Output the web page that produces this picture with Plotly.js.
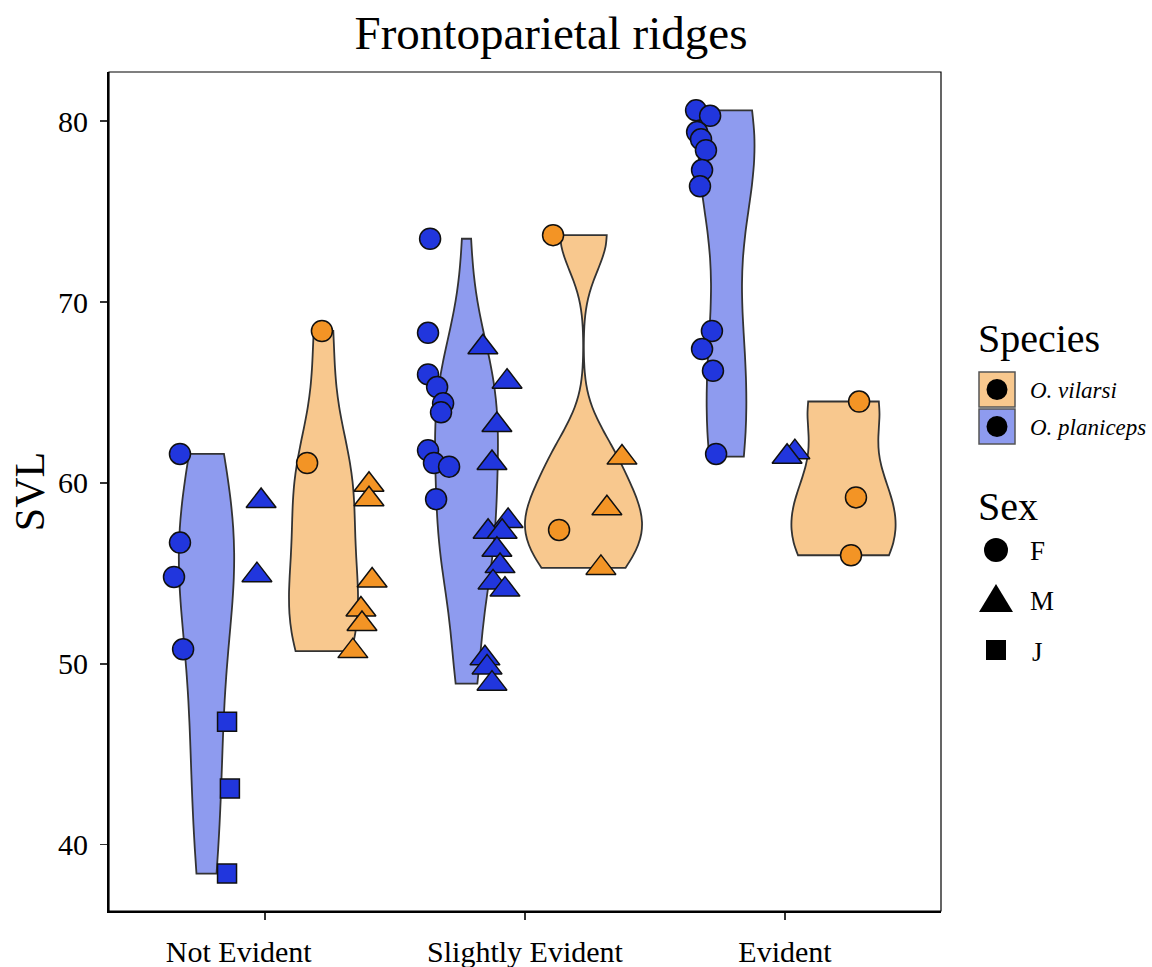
<!DOCTYPE html>
<html><head><meta charset="utf-8">
<script src="https://cdn.plot.ly/plotly-3.0.1.min.js"></script>
<style>html,body{margin:0;padding:0;background:#fff}#chart{width:1152px;height:967px}</style>
</head><body><div id="chart"></div>
<script>
// ---------------- DATA ----------------
const categories = ['Not Evident', 'Slightly Evident', 'Evident'];
const speciesNames = ['O. vilarsi', 'O. planiceps'];
const sexNames = ['F', 'M', 'J'];

// SVL values, one inner list per category (Not Evident, Slightly Evident, Evident)
const planicepsF = [[61.6, 56.7, 54.8, 50.8],
                    [73.5, 68.3, 66.0, 65.3, 64.4, 63.9, 61.8, 61.1, 60.9, 59.1],
                    [80.6, 80.3, 79.4, 79.0, 78.4, 77.3, 76.4, 68.4, 67.4, 66.2, 61.6]];
const planicepsM = [[59.0, 54.9],
                    [67.5, 65.6, 63.2, 61.1, 57.9, 57.3, 57.3, 56.3, 55.4, 54.5, 54.1, 50.3, 49.8, 48.9],
                    [61.7, 61.45]];
const planicepsJ = [[46.8, 43.1, 38.4], [], []];
const vilarsiF = [[68.4, 61.1], [73.7, 57.4], [64.5, 59.2, 56.0]];
const vilarsiM = [[59.9, 59.1, 54.6, 53.0, 52.2, 50.7], [61.4, 58.6, 55.3], []];
const vilarsiJ = [[], [], []];

// horizontal jitter of each point (category units), same layout as the value lists
const jitterPlanF = [[-0.327, -0.327, -0.350, -0.315],
                     [-0.365, -0.373, -0.373, -0.338, -0.315, -0.323, -0.373, -0.350, -0.292, -0.342],
                     [-0.342, -0.288, -0.338, -0.323, -0.304, -0.319, -0.327, -0.281, -0.319, -0.277, -0.265]];
const jitterPlanM = [[-0.015, -0.031],
                     [-0.162, -0.069, -0.108, -0.127, -0.065, -0.142, -0.088, -0.108, -0.096, -0.123, -0.077, -0.154, -0.146, -0.127],
                     [0.038, 0.008]];
const jitterPlanJ = [[-0.146, -0.135, -0.146], [], []];
const jitterVilF = [[0.219, 0.162], [0.108, 0.131], [0.285, 0.273, 0.254]];
const jitterVilM = [[0.400, 0.400, 0.412, 0.369, 0.373, 0.338], [0.373, 0.315, 0.292], []];
const jitterVilJ = [[], [], []];

// ---------------- STYLE ----------------
const FONT = '"Liberation Serif", "Times New Roman", serif';
const COL = {
  'O. vilarsi':   {pt: '#F39425', fill: '#F8C88E'},
  'O. planiceps': {pt: '#2136DD', fill: '#8E9BEF'}
};
const DODGE = 0.225;      // violin offset from category centre
const MAXW = 0.45;        // widest violin (data units)
const M = {l: 109, r: 211, t: 72, b: 56};
const W = 1152, H = 967;
const PW = W - M.l - M.r, PH = H - M.t - M.b;

const speciesData = {
  'O. vilarsi':   {F: vilarsiF, M: vilarsiM, J: vilarsiJ, jit: {F: jitterVilF, M: jitterVilM, J: jitterVilJ}, side: +1},
  'O. planiceps': {F: planicepsF, M: planicepsM, J: planicepsJ, jit: {F: jitterPlanF, M: jitterPlanM, J: jitterPlanJ}, side: -1}
};

// ---------- density helpers (ggplot "area" scaling with bw.nrd0) ----------
function q7(s, p) { const h = (s.length - 1) * p, lo = Math.floor(h); const hi = Math.min(lo + 1, s.length - 1); return s[lo] + (h - lo) * (s[hi] - s[lo]); }
function bwNrd0(v) {
  const n = v.length, m = v.reduce((a, b) => a + b, 0) / n;
  const sd = Math.sqrt(v.reduce((a, b) => a + (b - m) * (b - m), 0) / (n - 1));
  const s = [...v].sort((a, b) => a - b);
  let lo = Math.min(sd, (q7(s, 0.75) - q7(s, 0.25)) / 1.34);
  if (!lo) lo = sd || Math.abs(s[0]) || 1;
  return 0.9 * lo * Math.pow(n, -0.2);
}
function maxDens(v, bw) {
  const lo = Math.min(...v), hi = Math.max(...v); let best = 0;
  for (let i = 0; i < 512; i++) {
    const x = lo + (hi - lo) * i / 511; let d = 0;
    for (const xi of v) { const z = (x - xi) / bw; d += Math.exp(-0.5 * z * z); }
    d /= v.length * bw * Math.sqrt(2 * Math.PI);
    if (d > best) best = d;
  }
  return best;
}

// ---------- build violins ----------
const groups = [];
categories.forEach((cat, ci) => {
  ['O. planiceps', 'O. vilarsi'].forEach(sp => {
    const d = speciesData[sp];
    const vals = [].concat(d.F[ci], d.M[ci], d.J[ci]);
    const bw = bwNrd0(vals);
    groups.push({sp, ci, vals, bw, md: maxDens(vals, bw)});
  });
});
const globalMax = Math.max(...groups.map(g => g.md));

const traces = [];
groups.forEach(g => {
  const pos = g.ci + 1 + speciesData[g.sp].side * DODGE;
  traces.push({
    type: 'violin', orientation: 'v',
    x: g.vals.map(() => pos), y: g.vals,
    width: MAXW * g.md / globalMax,
    bandwidth: g.bw, spanmode: 'hard', points: false,
    box: {visible: false}, meanline: {visible: false},
    fillcolor: COL[g.sp].fill, opacity: 1,
    line: {color: '#333333', width: 1.8},
    showlegend: false, hoverinfo: 'y', name: g.sp + ' ' + categories[g.ci]
  });
});

// ---------- points ----------
const symbolOf = {F: 'circle', M: 'triangle-up', J: 'square'};
const sizeOf = {F: 21, M: 26, J: 19};
['O. planiceps', 'O. vilarsi'].forEach(sp => {
  const d = speciesData[sp];
  sexNames.forEach(sx => {
    const xs = [], ys = [];
    categories.forEach((cat, ci) => {
      d[sx][ci].forEach((v, k) => { xs.push(ci + 1 + d.jit[sx][ci][k]); ys.push(v); });
    });
    if (!xs.length) return;
    traces.push({
      type: 'scatter', mode: 'markers', x: xs, y: ys,
      marker: {symbol: symbolOf[sx], size: sizeOf[sx], color: COL[sp].pt, line: {color: '#101010', width: 1.5}},
      showlegend: false, name: sp + ' ' + sx, hoverinfo: 'x+y'
    });
  });
});

// ---------- manual legend (pixel positions -> paper) ----------
const px = x => (x - M.l) / PW;
const py = y => (M.t + PH - y) / PH;
const shapes = [
  {type: 'rect', xref: 'paper', yref: 'paper', x0: 0, x1: 1, y0: 0, y1: 1, line: {color: '#000', width: 1.2}, fillcolor: 'rgba(0,0,0,0)', layer: 'above'}
];
const annotations = [];
function txt(t, x, y, size, italic) {
  annotations.push({text: t, xref: 'paper', yref: 'paper', x: px(x), y: py(y), xanchor: 'left', yanchor: 'middle',
    showarrow: false, font: {family: FONT, size: size, color: '#000', style: italic ? 'italic' : 'normal'}});
}
function circ(cx, cy, r, fill) {
  shapes.push({type: 'circle', xref: 'paper', yref: 'paper', x0: px(cx - r), x1: px(cx + r), y0: py(cy + r), y1: py(cy - r), fillcolor: fill, line: {width: 0}});
}
txt('Species', 976, 338, 40, false);
[['O. vilarsi', 372], ['O. planiceps', 409]].forEach(([sp, top]) => {
  shapes.push({type: 'rect', xref: 'paper', yref: 'paper', x0: px(979), x1: px(1015), y0: py(top + 35), y1: py(top), fillcolor: COL[sp].fill, line: {color: '#555', width: 1.5}});
  circ(997, top + 17.5, 10.5, '#000');
  txt(sp, 1028, top + 18, 23, true);
});
txt('Sex', 976, 507, 40, false);
circ(996, 550, 12, '#000');
txt('F', 1028, 551, 27, false);
shapes.push({type: 'path', xref: 'paper', yref: 'paper',
  path: 'M' + px(979) + ',' + py(612) + ' L' + px(1013) + ',' + py(612) + ' L' + px(996) + ',' + py(584) + ' Z', fillcolor: '#000', line: {width: 0}});
txt('M', 1028, 601, 27, false);
shapes.push({type: 'rect', xref: 'paper', yref: 'paper', x0: px(986), x1: px(1006), y0: py(660), y1: py(640), fillcolor: '#000', line: {width: 0}});
txt('J', 1030, 652, 27, false);

// ---------- layout ----------
const layout = {
  width: W, height: H, margin: M,
  paper_bgcolor: '#fff', plot_bgcolor: '#fff',
  violinmode: 'overlay',
  font: {family: FONT, color: '#000'},
  title: {text: 'Frontoparietal ridges', font: {family: FONT, size: 47, color: '#000'},
    xref: 'container', yref: 'container', x: 551 / W, y: 1 - 33 / H, xanchor: 'center', yanchor: 'middle'},
  xaxis: {
    range: [0.4, 3.6], tickmode: 'array', tickvals: [1, 2, 3],
    ticktext: categories.map((c, i) => i === 0 ? c + '\u00a0'.repeat(7) : c),
    showgrid: false, zeroline: false, showline: true, linecolor: '#000', linewidth: 2,
    ticks: 'outside', ticklen: 7, tickwidth: 1.5, tickcolor: '#333',
    tickfont: {family: FONT, size: 30, color: '#000'}, ticklabelstandoff: 6
  },
  yaxis: {
    range: [36.33, 82.72], tickvals: [40, 50, 60, 70, 80],
    showgrid: false, zeroline: false, showline: true, linecolor: '#000', linewidth: 2,
    ticks: 'outside', ticklen: 7, tickwidth: 1.5, tickcolor: '#333',
    tickfont: {family: FONT, size: 30, color: '#000'}, ticklabelstandoff: 6,
    title: {text: 'SVL', font: {family: FONT, size: 42, color: '#000'}, standoff: 0}
  },
  shapes, annotations, showlegend: false
};

Plotly.newPlot('chart', traces, layout, {displayModeBar: false, staticPlot: true});
</script></body></html>
